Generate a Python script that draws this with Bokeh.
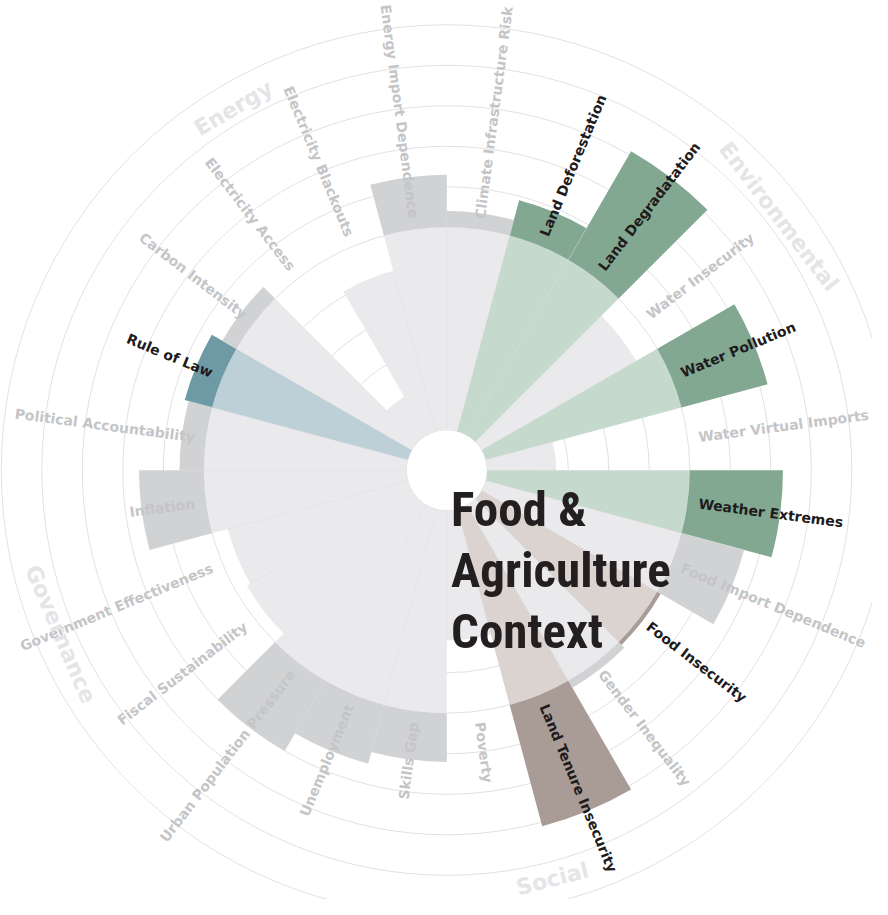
import math
from bokeh.plotting import figure
from bokeh.models import ColumnDataSource, Range1d
from bokeh.core.properties import value
from bokeh.embed import file_html
from bokeh.resources import INLINE

# ---------------- data ----------------
categories = [
    "Climate Infrastructure Risk", "Land Deforestation", "Land Degradatation",
    "Water Insecurity", "Water Pollution", "Water Virtual Imports", "Weather Extremes",
    "Food Import Dependence", "Food Insecurity", "Gender Inequality",
    "Land Tenure Insecurity", "Poverty", "Skills Gap", "Unemployment",
    "Urban Population Pressure", "Fiscal Sustainability", "Government Effectiveness",
    "Inflation", "Political Accountability", "Rule of Law", "Carbon Intensity",
    "Electricity Access", "Electricity Blackouts", "Energy Import Dependence",
]
scores = [5.4, 5.9, 8.1, 4.4, 7.2, 1.7, 7.3,
          6.6, 5.1, 5.2, 8.1, 3.2, 6.2, 6.5,
          7.0, 4.7, 4.6, 6.6, 5.6, 5.7, 5.4,
          1.1, 4.1, 6.3]
themes = ["grey", "green", "green", "grey", "green", "grey", "green",
          "grey", "brown", "grey", "brown", "grey", "grey", "grey",
          "grey", "grey", "grey", "grey", "grey", "blue", "grey",
          "grey", "grey", "grey"]
threshold = 5.0
groups = ["Environmental", "Social", "Governance", "Energy"]
title_lines = ["Food &", "Agriculture", "Context"]

# ---------------- style ----------------
PX = 40.5            # pixels per unit
W, H = 872, 899
CX, CY = 446.3, 469.8
HOLE = 1.0
light = {"grey": "#eaeaec", "green": "#c5d9cd", "brown": "#dbd3cf", "blue": "#bdcfd7"}
dark = {"grey": "#d1d2d4", "green": "#83a892", "brown": "#a99b96", "blue": "#6e9aa5"}
label_col = {"grey": "#c4c5c7", "green": "#1e1b1c", "brown": "#1e1b1c", "blue": "#1e1b1c"}
group_pos = {"Environmental": (52.6, 10.32), "Social": (165.5, 10.42),
             "Governance": (247.0, 10.36), "Energy": (329.5, 10.38)}

n = len(categories)
step = 360.0 / n

p = figure(width=W, height=H, output_backend="svg", toolbar_location=None,
           x_range=Range1d(-CX / PX, (W - CX) / PX),
           y_range=Range1d(-(H - CY) / PX, CY / PX),
           x_axis_location=None, y_axis_location=None, min_border=0)
p.grid.visible = False
p.outline_line_color = None
p.background_fill_color = "white"

# grid rings
for k in range(1, 12):
    p.circle(x=0, y=0, radius=k, fill_color=None, line_color="#e1e1e3", line_width=1)

# bars
st, en, lin, lout, lcol, din, dout, dcol = [], [], [], [], [], [], [], []
for i, (s, t) in enumerate(zip(scores, themes)):
    c0 = step * i
    c1 = step * (i + 1)
    a_start = math.radians(90 - c1)
    a_end = math.radians(90 - c0)
    outer = HOLE + s
    st.append(a_start); en.append(a_end)
    lin.append(HOLE); lout.append(min(outer, HOLE + threshold)); lcol.append(light[t])
    din.append(HOLE + threshold); dout.append(max(outer, HOLE + threshold)); dcol.append(dark[t])

src_l = ColumnDataSource(dict(s=st, e=en, ri=lin, ro=lout, c=lcol))
src_d = ColumnDataSource(dict(s=st, e=en, ri=din, ro=dout, c=dcol))
p.annular_wedge(x=0, y=0, inner_radius="ri", outer_radius="ro", start_angle="s",
                end_angle="e", fill_color="c", line_color=None, source=src_l)
p.annular_wedge(x=0, y=0, inner_radius="ri", outer_radius="ro", start_angle="s",
                end_angle="e", fill_color="c", line_color=None, source=src_d)

# thin radial separators
x0, y0, x1, y1 = [], [], [], []
for i in range(n):
    r = HOLE + min(scores[i], scores[i - 1])
    a = math.radians(90 - step * i)
    x0.append(HOLE * math.cos(a)); y0.append(HOLE * math.sin(a))
    x1.append(r * math.cos(a)); y1.append(r * math.sin(a))
p.segment(x0=x0, y0=y0, x1=x1, y1=y1, line_color="#d6d6d8", line_alpha=0.6, line_width=0.6)

# category labels
LR = 6.27
for i, name in enumerate(categories):
    c = step * i + step / 2
    a = math.radians(90 - c)
    x = LR * math.cos(a); y = LR * math.sin(a)
    if c < 180:
        ang, al = a, "left"
    else:
        ang, al = a + math.pi, "right"
    p.text(x=[x], y=[y], text=[name], angle=ang, text_align=al, text_baseline="middle",
           text_font=value("DejaVu Sans"), text_font_style="bold", text_font_size="14px",
           text_color=label_col[themes[i]])

# group labels
for g in groups:
    c, r = group_pos[g]
    a = math.radians(90 - c)
    x = r * math.cos(a); y = r * math.sin(a)
    ang = a - math.pi / 2 if (c < 90 or c > 270) else a + math.pi / 2
    p.text(x=[x], y=[y], text=[g], angle=ang, text_align="center", text_baseline="middle",
           text_font=value("DejaVu Sans"), text_font_style="bold", text_font_size="22px",
           text_color="#e4e5e7")

# title
for j, line in enumerate(title_lines):
    yb = (477.8 - (517 + 61 * j)) / PX
    p.text(x=[(458.5 - 454.3) / PX], y=[yb], text=[line], text_align="left",
           text_baseline="alphabetic", text_font=value("Roboto Condensed"),
           text_font_style="bold", text_font_size="49px", text_color="#231f20")

open("out.html", "w").write(file_html(p, INLINE))
